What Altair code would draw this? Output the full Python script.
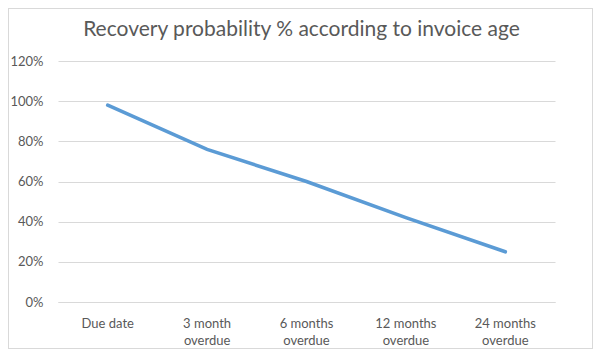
import altair as alt
import pandas as pd

categories = ["Due date", "3 month|overdue", "6 months|overdue", "12 months|overdue", "24 months|overdue"]
values = [0.98, 0.76, 0.60, 0.42, 0.25]
y_ticks = [0, 0.2, 0.4, 0.6, 0.8, 1.0, 1.2]

df = pd.DataFrame({"age": categories, "prob": values})

W, H = 497, 241
PL, PT, PR, PB = 50, 53, 38, 47

line = alt.Chart(df).mark_line(color="#5b9bd5", strokeWidth=3.6, strokeCap="round").encode(
    x=alt.X("age:N", sort=None, title=None,
            scale=alt.Scale(type="band", paddingInner=0, paddingOuter=0),
            axis=alt.Axis(labelExpr="split(datum.value, '|')", labelAngle=0,
                          labelColor="#595959", labelFontSize=13, labelFont="Lato",
                          labelPadding=15, labelLineHeight=17.5, ticks=False,
                          labelBaseline="top",
                          domainColor="#d9d9d9", domainWidth=1, grid=False)),
    y=alt.Y("prob:Q", title=None,
            scale=alt.Scale(domain=[0, 1.2], nice=False),
            axis=alt.Axis(values=y_ticks, format=".0%", labelColor="#595959",
                          labelFontSize=13, labelFont="Lato", labelPadding=15,
                          ticks=False, domain=False, gridColor="#d9d9d9", gridWidth=1)),
)

border = alt.Chart(df).mark_rect(fill=None, stroke="#d9d9d9", strokeWidth=1).encode(
    x=alt.value(-PL + 0.5), x2=alt.value(W + PR - 0.5),
    y=alt.value(-PT + 0.5), y2=alt.value(H + PB - 0.5),
)

chart = alt.layer(line, border).properties(
    width=W, height=H,
    title=alt.TitleParams("Recovery probability % according to invoice age",
                          font="Lato", fontSize=21, fontWeight="normal", color="#595959",
                          anchor="middle", frame="group", offset=-32, dx=-5),
    autosize=alt.AutoSizeParams(type="none"),
    padding={"left": PL, "top": PT, "right": PR, "bottom": PB},
).configure_view(stroke=None)

chart.save("out.html", embed_options={"renderer": "svg", "actions": False})
